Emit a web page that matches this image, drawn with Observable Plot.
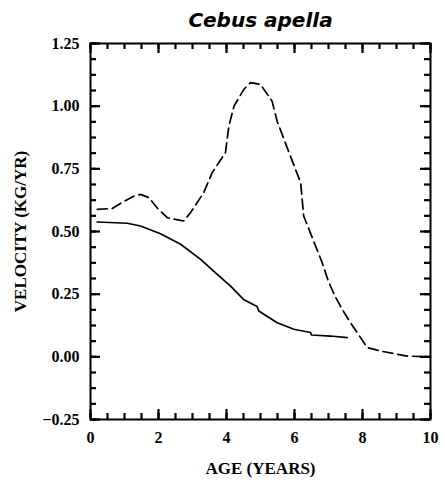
<!DOCTYPE html>
<html>
<head>
<meta charset="utf-8">
<script src="https://cdn.jsdelivr.net/npm/d3@7"></script>
<script src="https://cdn.jsdelivr.net/npm/@observablehq/plot@0.6"></script>
<style>
  html, body { margin: 0; padding: 0; background: #fff; }
</style>
</head>
<body>
<div id="chart"></div>
<script>
const title = "Cebus apella";
const xLabel = "AGE (YEARS)";
const yLabel = "VELOCITY (KG/YR)";

const xMajor = [0, 2, 4, 6, 8, 10];
const xMinor = [0, 0.5, 1, 1.5, 2, 2.5, 3, 3.5, 4, 4.5, 5, 5.5, 6, 6.5, 7, 7.5, 8, 8.5, 9, 9.5, 10];
const yMajor = [-0.25, 0, 0.25, 0.5, 0.75, 1, 1.25];
const yMinor = [-0.25, -0.1875, -0.125, -0.0625, 0, 0.0625, 0.125, 0.1875, 0.25, 0.3125, 0.375, 0.4375,
  0.5, 0.5625, 0.625, 0.6875, 0.75, 0.8125, 0.875, 0.9375, 1, 1.0625, 1.125, 1.1875, 1.25];

// solid curve
const solidAge = [0.2, 1.08, 1.47, 2.06, 2.65, 3.24, 3.62, 4.12, 4.5, 4.9, 4.95, 5.49, 5.98, 6.47, 6.5, 7.06, 7.55];
const solidVel = [0.538, 0.533, 0.522, 0.491, 0.449, 0.389, 0.342, 0.282, 0.229, 0.201, 0.183, 0.136, 0.110, 0.097, 0.087, 0.083, 0.077];

// dashed curve
const dashedAge = [0.2, 0.64, 0.88, 1.27, 1.47, 1.72, 2.0, 2.26, 2.74, 2.94, 3.33, 3.58, 3.97, 4.07, 4.22, 4.51, 4.71, 5.0, 5.34, 5.49, 5.69, 6.18, 6.27, 6.62, 6.81, 7.0, 7.2, 7.4, 7.65, 8.14, 8.53, 9.31, 10];
const dashedVel = [0.588, 0.592, 0.612, 0.641, 0.648, 0.635, 0.588, 0.555, 0.542, 0.575, 0.655, 0.735, 0.815, 0.921, 1.0, 1.067, 1.094, 1.087, 1.02, 0.94, 0.868, 0.695, 0.562, 0.442, 0.377, 0.30, 0.24, 0.19, 0.136, 0.037, 0.023, 0.003, 0.0];

const solid = solidAge.map((a, i) => ({age: a, vel: solidVel[i]}));
const dashed = dashedAge.map((a, i) => ({age: a, vel: dashedVel[i]}));

const W = 445, Hsvg = 485;
const mt = 43, mr = 15, mb = 66, ml = 90;
const H = Hsvg - mt - mb, PW = W - ml - mr;
const fmtY = d3.format(".2f");
const serif = "Liberation Serif";

const chart = Plot.plot({
  width: W,
  height: Hsvg,
  marginTop: mt, marginRight: mr, marginBottom: mb, marginLeft: ml,
  x: {domain: [0, 10], axis: null},
  y: {domain: [-0.25, 1.25], axis: null},
  marks: [
    Plot.frame({stroke: "#000", strokeWidth: 2}),
    // inward ticks on all four sides
    Plot.tickX(xMinor, {x: d => d, insetTop: H - 6, stroke: "#000", strokeWidth: 2.2}),
    Plot.tickX(xMajor, {x: d => d, insetTop: H - 10, stroke: "#000", strokeWidth: 2.2}),
    Plot.tickX(xMinor, {x: d => d, insetBottom: H - 6, stroke: "#000", strokeWidth: 2.2}),
    Plot.tickX(xMajor, {x: d => d, insetBottom: H - 10, stroke: "#000", strokeWidth: 2.2}),
    Plot.tickY(yMinor, {y: d => d, insetRight: PW - 6, stroke: "#000", strokeWidth: 2.2}),
    Plot.tickY(yMajor, {y: d => d, insetRight: PW - 10, stroke: "#000", strokeWidth: 2.2}),
    Plot.tickY(yMinor, {y: d => d, insetLeft: PW - 6, stroke: "#000", strokeWidth: 2.2}),
    Plot.tickY(yMajor, {y: d => d, insetLeft: PW - 10, stroke: "#000", strokeWidth: 2.2}),
    // tick labels
    Plot.text(xMajor, {x: d => d, frameAnchor: "bottom", dy: 12, lineAnchor: "top", text: d => String(d),
      fontSize: 16, fontWeight: "bold", fontFamily: serif, fill: "#000"}),
    Plot.text(yMajor, {y: d => d, frameAnchor: "left", dx: -11, textAnchor: "end", text: d => fmtY(d),
      fontSize: 16, fontWeight: "bold", fontFamily: serif, fill: "#000"}),
    // curves
    Plot.line(solid, {x: "age", y: "vel", stroke: "#000", strokeWidth: 1.7}),
    Plot.line(dashed, {x: "age", y: "vel", stroke: "#000", strokeWidth: 1.7, strokeDasharray: "10,5"}),
    // titles
    Plot.text([title], {frameAnchor: "top", dy: -23, lineAnchor: "middle", text: d => d, fontSize: 20, fontWeight: "bold", fontStyle: "italic",
      fontFamily: "DejaVu Sans", fill: "#000"}),
    Plot.text([xLabel], {frameAnchor: "bottom", dy: 49, lineAnchor: "middle", text: d => d, fontSize: 17, fontWeight: "bold", fontFamily: serif, fill: "#000"}),
    Plot.text([yLabel], {frameAnchor: "left", dx: -70, rotate: -90, textAnchor: "middle", lineAnchor: "middle", text: d => d, fontSize: 17, fontWeight: "bold", fontFamily: serif, fill: "#000"})
  ]
});
document.getElementById("chart").appendChild(chart);
</script>
</body>
</html>
